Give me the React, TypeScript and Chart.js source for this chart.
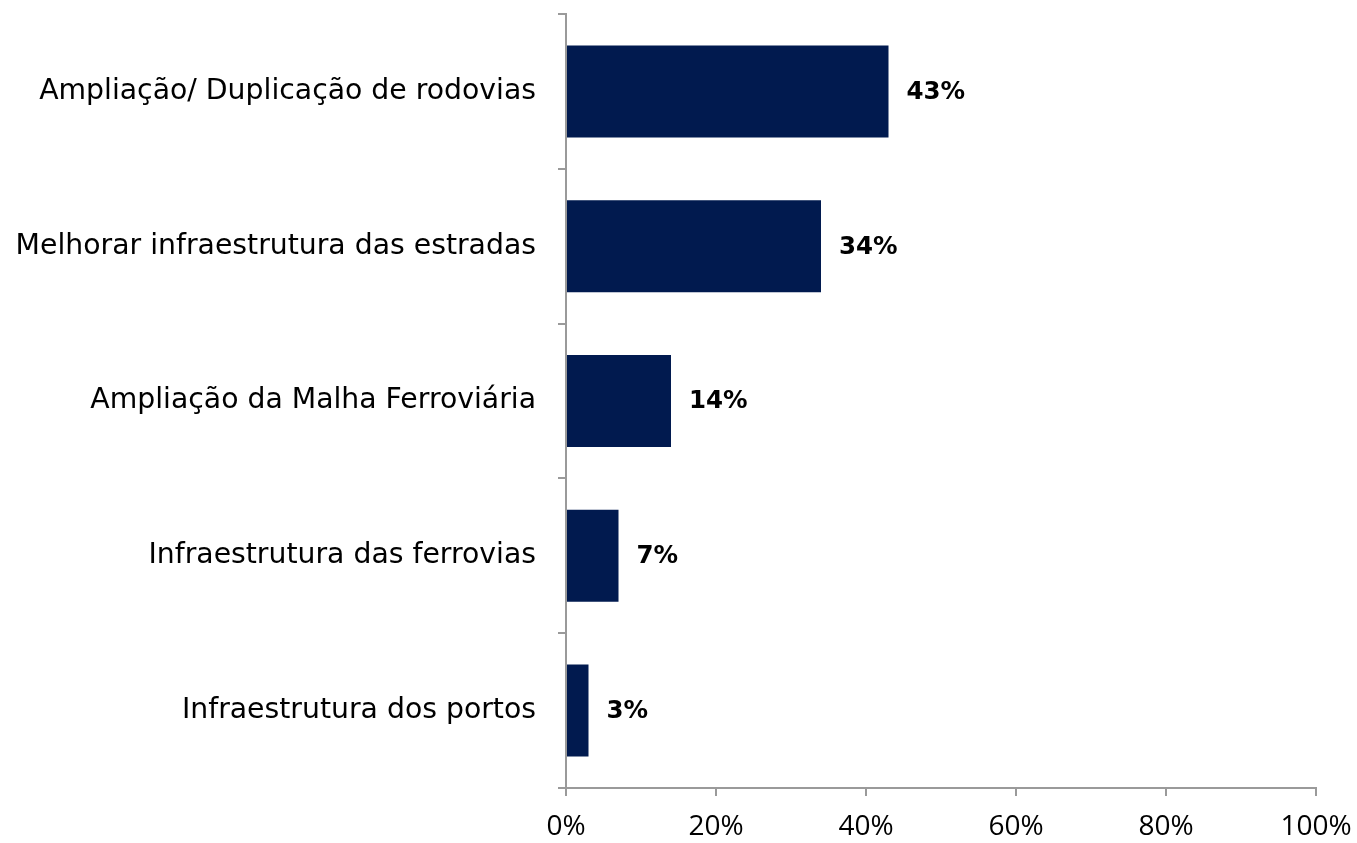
import React, { useEffect, useRef } from "react";
import { Chart, registerables } from "chart.js";

Chart.register(...registerables);

const categories = [
  "Ampliação/ Duplicação de rodovias",
  "Melhorar infraestrutura das estradas",
  "Ampliação da Malha Ferroviária",
  "Infraestrutura das ferrovias",
  "Infraestrutura dos portos",
];
const values = [43, 34, 14, 7, 3];
const xTicks = [0, 20, 40, 60, 80, 100];

const labelFont = "'DejaVu Sans', sans-serif";

const valueLabels = {
  id: "valueLabels",
  afterDatasetsDraw(chart: any) {
    const ctx = chart.ctx;
    const meta = chart.getDatasetMeta(0);
    ctx.save();
    ctx.font = `bold 24.5px ${labelFont}`;
    ctx.fillStyle = "#000";
    ctx.textAlign = "left";
    ctx.textBaseline = "middle";
    meta.data.forEach((bar: any, i: number) => {
      ctx.fillText(values[i] + "%", bar.x + 18, bar.y + 1);
    });
    ctx.restore();
  },
};

export default function App() {
  const ref = useRef<HTMLCanvasElement>(null);
  useEffect(() => {
    if (!ref.current) return;
    const chart = new Chart(ref.current, {
      type: "bar",
      data: {
        labels: categories,
        datasets: [
          {
            data: values,
            backgroundColor: "#011A4F",
            borderWidth: 0,
            categoryPercentage: 1,
            barPercentage: 0.594,
          },
        ],
      },
      options: {
        indexAxis: "y",
        animation: false,
        responsive: false,
        maintainAspectRatio: false,
        layout: { padding: { top: 14, right: 41, left: 0, bottom: 0 } },
        plugins: { legend: { display: false }, tooltip: { enabled: false } },
        scales: {
          x: {
            min: 0,
            max: 100,
            afterBuildTicks(scale: any) {
              scale.ticks = xTicks.map((v) => ({ value: v }));
            },
            afterFit(scale: any) {
              scale.height = 55;
              scale.paddingLeft = 0;
              scale.paddingRight = 0;
            },
            ticks: {
              callback: (v: any) => v + "%",
              font: { family: "'Open Sans', sans-serif", size: 28 },
              color: "#000",
              padding: 14,
              maxRotation: 0,
            },
            grid: {
              drawOnChartArea: false,
              drawTicks: true,
              tickLength: 8,
              color: "#9a9a9a",
              lineWidth: 2,
            },
            border: { color: "#9a9a9a", width: 2 },
          },
          y: {
            afterFit(scale: any) {
              scale.width = 566;
              scale.paddingTop = 0;
              scale.paddingBottom = 0;
            },
            ticks: {
              font: { family: labelFont, size: 28.3 },
              color: "#000",
              padding: 22,
            },
            grid: {
              offset: true,
              drawOnChartArea: false,
              drawTicks: true,
              tickLength: 8,
              color: "#9a9a9a",
              lineWidth: 2,
            },
            border: { color: "#9a9a9a", width: 2 },
          },
        },
      },
      plugins: [valueLabels],
    });
    return () => chart.destroy();
  }, []);
  return (
    <div style={{ position: "fixed", left: 0, top: 0, width: 1357, height: 843, background: "#fff" }}>
      <canvas ref={ref} width={1357} height={843} />
    </div>
  );
}
